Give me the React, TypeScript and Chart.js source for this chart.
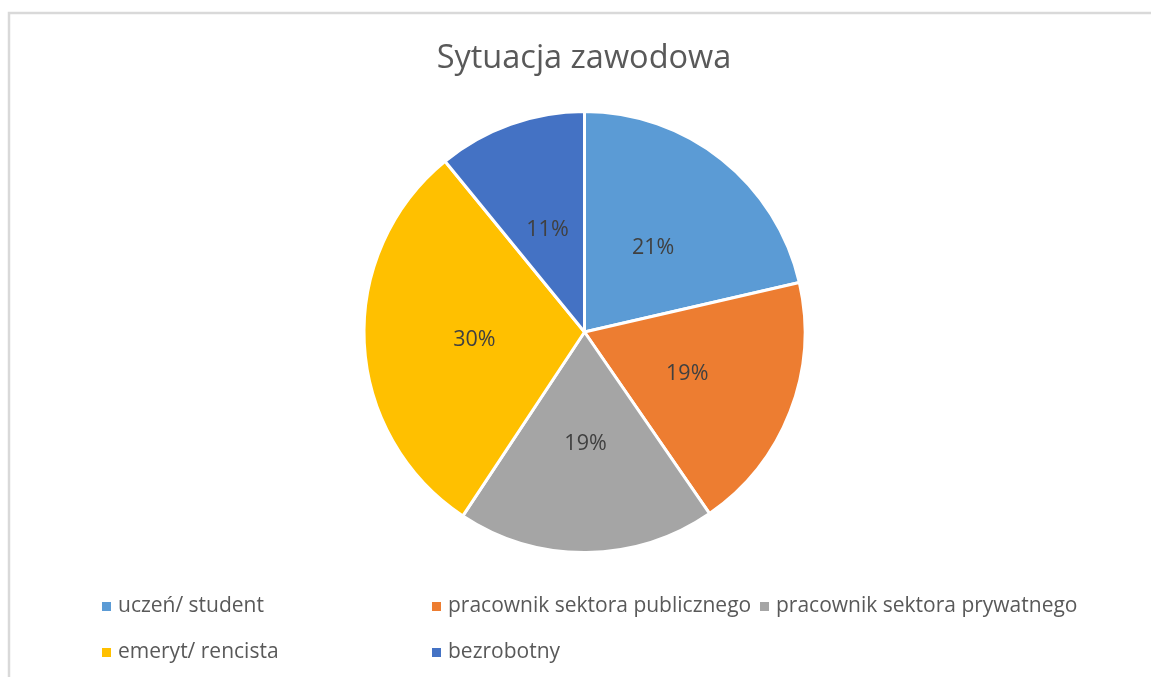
import React, { useEffect, useRef } from "react";
import { Chart, registerables } from "chart.js";

Chart.register(...registerables);

const TITLE = "Sytuacja zawodowa";
const categories = [
  "uczeń/ student",
  "pracownik sektora publicznego",
  "pracownik sektora prywatnego",
  "emeryt/ rencista",
  "bezrobotny",
];
// shares in percent
const shares = [21.4, 19.0, 18.9, 29.8, 10.9];
const colors = ["#5B9BD5", "#ED7D31", "#A5A5A5", "#FFC000", "#4472C4"];

const FONT = "'Open Sans', sans-serif";
const W = 1151;
const H = 677;

const decorPlugin = {
  id: "decor",
  beforeDraw(chart: any) {
    const ctx = chart.ctx as CanvasRenderingContext2D;
    ctx.save();
    ctx.fillStyle = "#ffffff";
    ctx.fillRect(0, 0, chart.width, chart.height);
    // frame
    ctx.strokeStyle = "#d9d9d9";
    ctx.lineWidth = 2.5;
    ctx.beginPath();
    ctx.moveTo(9, chart.height);
    ctx.lineTo(9, 13);
    ctx.lineTo(chart.width, 13);
    ctx.stroke();
    // title
    ctx.fillStyle = "#595959";
    ctx.font = `32.5px ${FONT}`;
    ctx.textAlign = "center";
    ctx.textBaseline = "alphabetic";
    ctx.fillText(TITLE, 584, 68);
    // legend
    ctx.font = `21px ${FONT}`;
    ctx.textAlign = "left";
    const colX = [102, 432, 760];
    const rowY = [612, 658];
    categories.forEach((c, i) => {
      const col = i % 3;
      const row = Math.floor(i / 3);
      const x = colX[col];
      const y = rowY[row];
      ctx.fillStyle = colors[i];
      ctx.fillRect(x, y - 10, 9, 9);
      ctx.fillStyle = "#595959";
      ctx.fillText(c, x + 16, y);
    });
    ctx.restore();
  },
  afterDatasetsDraw(chart: any) {
    const ctx = chart.ctx as CanvasRenderingContext2D;
    const meta = chart.getDatasetMeta(0);
    ctx.save();
    ctx.font = `21.5px ${FONT}`;
    ctx.fillStyle = "#404040";
    ctx.textAlign = "center";
    ctx.textBaseline = "middle";
    meta.data.forEach((arc: any, i: number) => {
      const { x, y, startAngle, endAngle, outerRadius } = arc.getProps(
        ["x", "y", "startAngle", "endAngle", "outerRadius"],
        true
      );
      const mid = (startAngle + endAngle) / 2;
      const r = outerRadius * 0.5;
      const label = Math.round(shares[i]) + "%";
      ctx.fillText(label, x + Math.cos(mid) * r, y + Math.sin(mid) * r + 2);
    });
    ctx.restore();
  },
};

export default function App() {
  const ref = useRef<HTMLCanvasElement | null>(null);
  useEffect(() => {
    document.body.style.margin = "0";
    const canvas = ref.current;
    if (!canvas) return;
    const chart = new Chart(canvas, {
      type: "pie",
      data: {
        labels: categories,
        datasets: [
          {
            data: shares,
            backgroundColor: colors,
            borderColor: "#ffffff",
            borderWidth: 3,
          },
        ],
      },
      options: {
        animation: false,
        responsive: false,
        devicePixelRatio: 1,
        layout: {
          padding: { left: 362.5, right: 344.5, top: 110, bottom: 123 },
        },
        plugins: {
          legend: { display: false },
          title: { display: false },
          tooltip: { enabled: false },
        },
      },
      plugins: [decorPlugin],
    });
    return () => chart.destroy();
  }, []);
  return (
    <div style={{ width: W, height: H, overflow: "hidden" }}>
      <canvas ref={ref} width={W} height={H} style={{ display: "block" }} />
    </div>
  );
}
